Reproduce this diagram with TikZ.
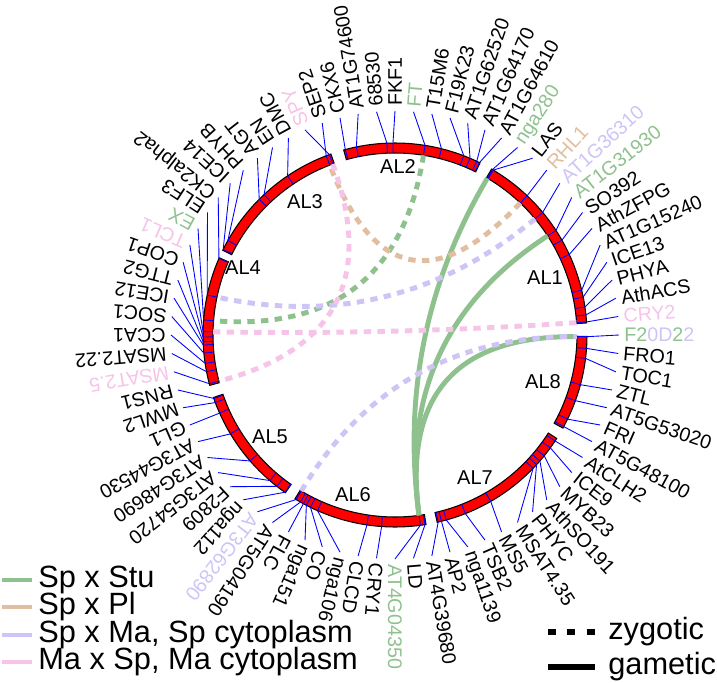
\documentclass[tikz,border=0pt]{standalone}
\usepackage{fontspec}
\setmainfont{Liberation Sans}
\usetikzlibrary{calc}
\definecolor{stu}{RGB}{143,193,143}
\definecolor{pl}{RGB}{226,190,160}
\definecolor{masp}{RGB}{206,196,246}
\definecolor{spma}{RGB}{246,196,232}
\tikzset{
  chrom/.style={fill=red, draw=black, line width=0.6pt},
  tick/.style={blue, line width=0.5pt},
  gene/.style={anchor=west, inner sep=0pt, inner xsep=0.1cm, font=\fontsize{11.2}{13}\selectfont},
  alname/.style={font=\fontsize{11.4}{13}\selectfont},
  zyg/.style={line width=2.8pt, dash pattern=on 4.2pt off 3.6pt},
  gam/.style={line width=2.8pt},
  legtext/.style={anchor=west, inner sep=0pt, font=\fontsize{17.5}{20}\selectfont}
}
\begin{document}
\begin{tikzpicture}[x=0.02cm, y=0.02cm]
\useasboundingbox (-395,-348) rectangle (322,335);
\coordinate (o) at (0,0);
% linkage groups
\foreach \a/\b/\n/\lx/\ly in {3.6/59.8/AL1/150/57, 63.7/105.5/AL2/3/168,
  109.5/153.8/AL3/-90/133, 156.3/195.2/AL4/-152/67, 199/235.2/AL5/-125/-102,
  238.6/279.3/AL6/-42/-160, 282.7/327.4/AL7/80/-143, 331/359.6/AL8/148/-47}{
  \draw[chrom] (\a:182) arc[start angle=\a, end angle=\b, radius=182]
    -- (\b:192) arc[start angle=\b, end angle=\a, radius=192] -- cycle;
  \node[alname] (\n) at (\lx,\ly) {\n};
}
% markers
\foreach \i/\m/\g/\c in {
  0/359.5/{\color{stu}F2\color{masp}0D\color{stu}2\color{masp}2}/black,
  1/3.9/CRY2/spma, 2/6/AthACS/black, 3/8.4/PHYA/black, 4/11.4/ICE13/black,
  5/13.5/AT1G15240/black, 6/24.8/AthZFPG/black, 7/29.6/SO392/black,
  8/33/AT1G31930/stu, 9/39.7/AT1G36310/masp, 10/46.5/RHL1/pl,
  11/59.2/LAS/black, 12/59.5/nga280/stu, 13/63.9/AT1G64610/black,
  14/64.8/AT1G64170/black, 15/67/AT1G62520/black, 16/69/F19K23/black,
  17/76/T15M6/black, 18/81/FT/stu, 19/90.6/FKF1/black, 20/92.4/68530/black,
  21/101.6/AT1G74600/black, 22/105/CKX6/black, 23/111/SEP2/black,
  24/110/SPY/spma, 25/124/DMC/black, 26/133/EN/black, 27/135/AGT/black,
  28/150.5/PHYB/black, 29/153.5/ICE14/black, 30/156.5/CK2alpha2/black,
  31/168/ELF3/black, 32/175.5/EX/stu, 33/179/TCL1/spma, 34/180.6/COP1/black,
  35/182/TTG2/black, 36/183/ICE12/black, 37/185.4/SOC1/black,
  38/188.5/CCA1/black, 39/191/MSAT2.22/black, 40/194.7/MSAT2.5/spma,
  41/199.3/RNS1/black, 42/200.6/MWL2/black, 43/204/GL1/black,
  44/211/AT3G44530/black, 45/221/AT3G48690/black, 46/229.3/AT3G54720/black,
  47/232/F2809/black, 48/235/nga112/black, 49/239/AT3G62890/masp,
  50/240.5/AT5G04190/black, 51/241.5/FLC/black, 52/242.5/nga151/black,
  53/243.9/CO/black, 54/246.2/nga106/black, 55/261.6/CLCD/black,
  56/266/CRY1/black, 57/277.6/AT4G04350/stu, 58/279/LD/black,
  59/283/AT4G39680/black, 60/284/AP2/black, 61/285.5/nga1139/black,
  62/291.5/TSB2/black, 63/299.9/MS5/black, 64/316/MSAT4.35/black,
  65/317.5/PHYC/black, 66/319/AthSO191/black, 67/321/MYB23/black,
  68/324/ICE9/black, 69/326.5/AtCLH2/black, 70/331.5/AT5G48100/black,
  71/334/FRI/black, 72/340/AT5G53020/black, 73/345/ZTL/black,
  74/353/TOC1/black, 75/356/FRO1/black}{
  \coordinate (m\i) at (\m:192);
  \coordinate (i\i) at (\m:182);
  \draw[tick] (i\i) -- (m\i);
  \node[gene, text=\c, rotate={\i*4.736842}] (g\i) at ({\i*4.736842}:224) {\g};
  \draw[tick] (m\i) -- (g\i.west);
}
% links
\foreach \p/\q/\s in {57/12/stu, 57/8/stu, 57/0/stu}
  \draw[gam, \s] (i\p) .. controls ($(i\p)!2/3!(o)$) and ($(i\q)!2/3!(o)$) .. (i\q);
\foreach \p/\q/\s in {18/32/stu, 10/23/pl, 9/31/masp, 49/0/masp, 33/1/spma, 24/40/spma}
  \draw[zyg, \s] (i\p) .. controls ($(i\p)!2/3!(o)$) and ($(i\q)!2/3!(o)$) .. (i\q);
% legend
\node[legtext] (lstu) at (-357,-245) {Sp x Stu};
\node[legtext] (lpl) at (-357,-272) {Sp x Pl};
\node[legtext] (lmasp) at (-357,-300) {Sp x Ma, Sp cytoplasm};
\node[legtext] (lspma) at (-357,-327) {Ma x Sp, Ma cytoplasm};
\draw[gam, stu] (-393,-245) -- (-363,-245);
\draw[gam, pl] (-393,-272) -- (-363,-272);
\draw[gam, masp] (-393,-300) -- (-363,-300);
\draw[gam, spma] (-393,-327) -- (-363,-327);
\node[legtext] (lzyg) at (213,-297) {zygotic};
\node[legtext] (lgam) at (213,-332) {gametic};
\draw[line width=3.2pt, dash pattern=on 4.5pt off 6.5pt] (153,-297) -- (200,-297);
\draw[line width=3.2pt] (153,-332) -- (200,-332);
\end{tikzpicture}
\end{document}
